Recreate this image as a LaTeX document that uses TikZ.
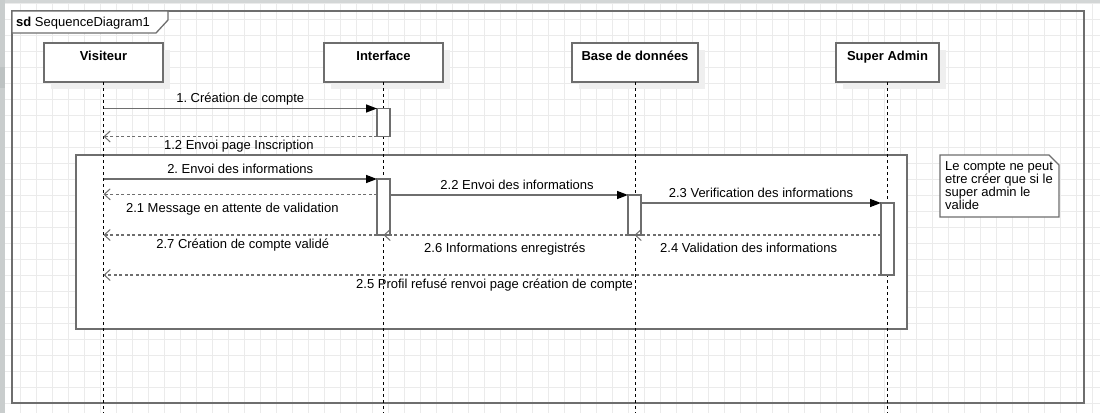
\documentclass[tikz,border=0pt]{standalone}
\usepackage{fontspec}
\setmainfont{Liberation Sans}
\usetikzlibrary{arrows.meta,calc,shadows}
\definecolor{gridc}{HTML}{EBEBEB}
\definecolor{strk}{HTML}{6E6E6E}
\definecolor{shad}{HTML}{EFEFEF}
\definecolor{sidebar}{HTML}{C9CDCD}
\definecolor{topbar}{HTML}{D3D6D6}
\definecolor{sidetab}{HTML}{BDC2C2}
\frenchspacing
\begin{document}
\begin{tikzpicture}[x=1pt,y=-1pt,
  lab/.style={font=\fontsize{13}{15}\selectfont, inner sep=0pt, anchor=base},
  head/.style={font=\fontsize{13}{15}\selectfont\bfseries, inner sep=0pt, anchor=base},
  lifebox/.style={draw=strk, line width=1.4pt, fill=white, minimum width=#1, minimum height=39pt,
    inner sep=0pt, outer sep=0pt, anchor=north west,
    general shadow={fill=shad, shadow xshift=7pt, shadow yshift=-7pt}},
  actbox/.style={draw=strk, line width=1.3pt, fill=white, minimum width=13pt, minimum height=#1,
    inner sep=0pt, outer sep=0pt, anchor=north west},
  lifeline/.style={draw=black, line width=0.9pt, dash pattern=on 3pt off 3pt},
  msg/.style={draw=strk, line width=1.4pt, -{Triangle[length=11pt,width=8pt,color=black]}},
  ret/.style={draw=strk, line width=1.2pt, dash pattern=on 3pt off 2.5pt,
    -{Straight Barb[length=6pt,width=11pt,line width=1pt]}},
  gridline/.style={draw=gridc, line width=1pt}]
\useasboundingbox (0,0) rectangle (1100,413);
\fill[white] (0,0) rectangle (1100,413);
% background grid
\foreach \i in {0,...,68} {\draw[gridline] ({4.7+16*\i},0) -- ({4.7+16*\i},413);}
\foreach \j in {0,...,25} {\draw[gridline] (0,{3.5+16*\j}) -- (1100,{3.5+16*\j});}
% editor edges
\fill[topbar] (0,0) rectangle (1100,3);
\fill[sidebar] (0,0) rectangle (4.5,413);
\fill[sidetab] (0,67) rectangle (4.5,88);
\coordinate (bot) at (0,413);
% frame
\node[draw=strk, line width=1.6pt, minimum width=1072pt, minimum height=392pt,
  inner sep=0pt, outer sep=0pt, anchor=north west] (frame) at (12,11) {};
\draw[strk, line width=1.3pt, fill=white] (frame.north west) -- (168,11) -- (168,20) -- (156,33) -- (12,33) -- cycle;
\node[lab, anchor=base west] (sdlab) at (16,26.5) {\textbf{sd} SequenceDiagram1};
% lifeline heads
\node[lifebox=119pt] (vis) at (44,43) {};
\node[lifebox=119pt] (itf) at (324,43) {};
\node[lifebox=126pt] (bdd) at (572,43) {};
\node[lifebox=103pt] (sa) at (836,43) {};
\node[head] (visT) at ($(vis.north)+(0,17.5)$) {Visiteur};
\node[head] (itfT) at ($(itf.north)+(0,17.5)$) {Interface};
\node[head] (bddT) at ($(bdd.north)+(0,17.5)$) {Base de données};
\node[head] (saT) at ($(sa.north)+(0,17.5)$) {Super Admin};
% combined fragment
\node[draw=strk, line width=1.4pt, fill=white, minimum width=831pt, minimum height=174pt,
  inner sep=0pt, outer sep=0pt, anchor=north west] (frag) at (76,155) {};
% note
\draw[strk, line width=1.3pt, fill=white] (940,155) -- (1049,155) -- (1059,165) -- (1059,217) -- (940,217) -- cycle;
\node[font=\fontsize{13}{13}\selectfont, align=left, anchor=base west, inner sep=0pt] (note) at (945,209)
  {Le compte ne peut\\etre créer que si le\\super admin le\\valide};
% lifelines
\draw[lifeline] (vis.south) -- (vis.south |- bot);
\draw[lifeline] (itf.south) -- (itf.south |- bot);
\draw[lifeline] (bdd.south) -- (bdd.south |- bot);
\draw[lifeline] (sa.south) -- (sa.south |- bot);
% activations
\node[actbox=28pt] (a1) at (377,108.5) {};
\node[actbox=56pt] (a2) at (377,179) {};
\node[actbox=40pt] (a3) at (628,195) {};
\node[actbox=72pt] (a4) at (881,203) {};
% messages
\coordinate (y21) at (0,194.3);
\draw[msg] (vis.south |- a1.north west) -- node[lab, pos=.5, yshift=6pt] {1. Création de compte} (a1.north west);
\draw[ret] (a1.south west) -- node[lab, pos=.505, yshift=-13pt] {1.2 Envoi page Inscription} (vis.south |- a1.south west);
\draw[msg] (vis.south |- a2.north west) -- node[lab, pos=.5, yshift=6pt] {2. Envoi des informations} (a2.north west);
\draw[ret] (a2.west |- y21) -- node[lab, pos=.529, yshift=-18.2pt] {2.1 Message en attente de validation} (vis.south |- y21);
\draw[msg] (a2.east |- a3.north) -- node[lab, pos=.534, yshift=6pt] {2.2 Envoi des informations} (a3.north west);
\draw[msg] (a3.east |- a4.north) -- node[lab, pos=.5, yshift=6pt] {2.3 Verification des informations} (a4.north west);
\draw[ret] (a4.west |- a3.south) -- node[lab, pos=.537, yshift=-17.5pt] {2.4 Validation des informations} (a3.south);
\draw[ret] (a3.south west) -- node[lab, pos=.504, yshift=-17.5pt] {2.6 Informations enregistrés} (a2.south);
\draw[ret] (a2.south west) -- node[lab, pos=.491, yshift=-13.5pt] {2.7 Création de compte validé} (vis.south |- a2.south west);
\draw[ret] (a4.south west) -- node[lab, pos=.497, yshift=-13.5pt] {2.5 Profil refusé renvoi page création de compte} (vis.south |- a4.south west);
\end{tikzpicture}
\end{document}
